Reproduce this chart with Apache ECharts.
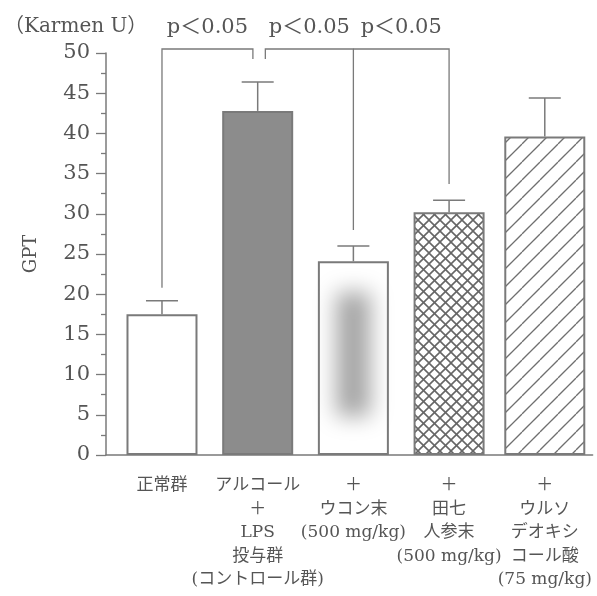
<!DOCTYPE html>
<html><head><meta charset="utf-8">
<script src="https://cdn.jsdelivr.net/npm/echarts@6/dist/echarts.min.js"></script>
<style>html,body{margin:0;padding:0;background:#fff}#c{width:597px;height:596px}</style>
</head><body><div id="c"></div>
<script>
// ---- data ----
const categories = [
  '正常群',
  'アルコール\n＋\nLPS\n投与群\n(コントロール群)',
  '＋\nウコン末\n(500 mg/kg)',
  '＋\n田七\n人参末\n(500 mg/kg)',
  '＋\nウルソ\nデオキシ\nコール酸\n(75 mg/kg)'
];
const means = [17.5, 42.8, 24.1, 30.2, 39.6];
const upperErr = [19.2, 46.4, 26.0, 31.7, 44.4];
const yMin = 0, yMax = 50, yInterval = 5;
const unitLabel = '（Karmen U）';
const yName = 'GPT';
// brackets: [left x, right x, left foot value, right foot value]
const brackets = [[0, 0.95, 20.8, 49.25], [1.08, 2, 49.25, 28.0], [2, 3, 50.5, 33.7]];
const bracketTop = 50.5;
const sigLabels = ['p＜0.05', 'p＜0.05', 'p＜0.05'];

// ---- styles ----
const GRAY = '#7a7a7a', TEXT = '#555';
const SERIF = "'DejaVu Serif','Noto Sans CJK JP',serif";
function hatch(size, dirs, color, lw) {
  const c = document.createElement('canvas');
  c.width = c.height = size;
  const ctx = c.getContext('2d');
  ctx.strokeStyle = color; ctx.lineWidth = lw;
  dirs.forEach(d => {
    for (let k = -1; k <= 1; k++) {
      ctx.beginPath();
      if (d === '/') { ctx.moveTo(k * size, size); ctx.lineTo(size + k * size, 0); }
      else { ctx.moveTo(k * size, 0); ctx.lineTo(size + k * size, size); }
      ctx.stroke();
    }
  });
  return c;
}
const crossPat = { image: hatch(11, ['/', '\\'], '#666', 1.6), repeat: 'repeat' };
const diagPat = { image: hatch(18, ['/'], '#6f6f6f', 1.3), repeat: 'repeat' };
const fills = ['#ffffff', '#8c8c8c', '#ffffff', crossPat, diagPat];

const BAND = 95.7;
const xMin = -0.585, xMax = 4.5;
const gridRight = 597 - 106 - (xMax - xMin) * BAND;
const chart = echarts.init(document.getElementById('c'));
const idx = means.map((_, i) => i);

chart.setOption({
  animation: false,
  backgroundColor: '#fff',
  title: {
    text: unitLabel, left: 4, top: 17, padding: 0,
    textStyle: { fontSize: 20, fontWeight: 'normal', color: TEXT, fontFamily: SERIF }
  },
  grid: [
    { left: 106, right: gridRight, top: 53, bottom: 141, outerBoundsMode: 'none' },
    // label grid: category bands aligned with the bars
    { left: 106 + (-0.5 - xMin) * BAND, right: gridRight + (xMax - 4.5) * BAND, top: 53, bottom: 141, outerBoundsMode: 'none' }
  ],
  xAxis: [{
    type: 'value', min: xMin, max: xMax, gridIndex: 0,
    axisLine: { show: true, onZero: false, lineStyle: { color: GRAY, width: 1.5 } },
    axisTick: { show: false }, splitLine: { show: false }, axisLabel: { show: false }
  }, {
    type: 'value', min: xMin, max: xMax, gridIndex: 0, show: false
  }, {
    type: 'category', gridIndex: 1, data: categories,
    axisLine: { show: false }, axisTick: { show: false }, splitLine: { show: false },
    axisLabel: { interval: 0, margin: 19, fontSize: 17, lineHeight: 23.5, color: TEXT, fontFamily: SERIF }
  }],
  yAxis: [{
    type: 'value', min: yMin, max: yMax, interval: yInterval, gridIndex: 0,
    name: yName, nameLocation: 'middle', nameGap: 66, nameRotate: 90,
    nameTextStyle: { fontSize: 18, color: TEXT, fontFamily: SERIF },
    axisLine: { show: true, onZero: false, lineStyle: { color: GRAY, width: 1.5 } },
    axisTick: { show: true, length: 10, lineStyle: { color: GRAY, width: 1.3 } },
    minorTick: { show: true, splitNumber: 2, length: 5, lineStyle: { color: GRAY, width: 1.3 } },
    splitLine: { show: false },
    axisLabel: { margin: 16, fontSize: 21, color: TEXT, fontFamily: SERIF }
  }, {
    type: 'value', gridIndex: 1, show: false, min: yMin, max: yMax
  }],
  series: [
    {
      type: 'bar', barWidth: 71, xAxisIndex: 0,
      data: idx.slice(0, 4).map(i => ({ value: [i, means[i]], itemStyle: { color: fills[i] } })),
      itemStyle: { borderColor: GRAY, borderWidth: 2 }
    },
    {
      type: 'bar', barWidth: 81, xAxisIndex: 1,
      data: [{ value: [4, means[4]], itemStyle: { color: fills[4] } }],
      itemStyle: { borderColor: GRAY, borderWidth: 2 }
    },
    {
      // soft gray blob inside bar 3
      type: 'custom', xAxisIndex: 0, silent: true,
      data: [[2, means[2]]],
      renderItem: (params, api) => {
        const b = api.coord([api.value(0), 0]);
        const t = api.coord([api.value(0), api.value(1)]);
        const h = b[1] - t[1];
        const w = 34;
        return {
          type: 'rect',
          shape: { x: b[0] - w / 2 - 2000, y: t[1] + h * 0.16, width: w, height: h * 0.64 },
          style: { fill: '#aaa', shadowBlur: 22, shadowColor: 'rgba(165,165,165,1)', shadowOffsetX: 2000 }
        };
      },
      z: 3
    },
    {
      // error bars
      type: 'custom', xAxisIndex: 0, silent: true,
      data: idx.map(i => [i, means[i], upperErr[i]]),
      renderItem: (params, api) => {
        const a = api.coord([api.value(0), api.value(1)]);
        const e = api.coord([api.value(0), api.value(2)]);
        const st = { stroke: GRAY, lineWidth: 1.5 };
        return { type: 'group', children: [
          { type: 'line', shape: { x1: a[0], y1: a[1], x2: e[0], y2: e[1] }, style: st },
          { type: 'line', shape: { x1: e[0] - 16, y1: e[1], x2: e[0] + 16, y2: e[1] }, style: st }
        ] };
      },
      z: 4
    },
    {
      // significance brackets
      type: 'custom', xAxisIndex: 0, silent: true,
      data: brackets.map((b, i) => [b[0], b[1], b[2], b[3], i]),
      renderItem: (params, api) => {
        const x1 = api.value(0), x2 = api.value(1);
        const p1 = api.coord([x1, api.value(2)]);
        const p2 = api.coord([x2, api.value(3)]);
        const t1 = api.coord([x1, bracketTop]);
        const t2 = api.coord([x2, bracketTop]);
        const st = { stroke: GRAY, lineWidth: 1.3, fill: null };
        return { type: 'group', children: [
          { type: 'polyline', shape: { points: [p1, t1, t2, p2] }, style: st },
          { type: 'text', style: {
            text: sigLabels[params.dataIndex], x: (t1[0] + t2[0]) / 2, y: t1[1] - 21,
            align: 'center', verticalAlign: 'middle', fill: TEXT,
            font: '21px ' + SERIF
          } }
        ] };
      },
      z: 4
    }
  ]
});
</script></body></html>
